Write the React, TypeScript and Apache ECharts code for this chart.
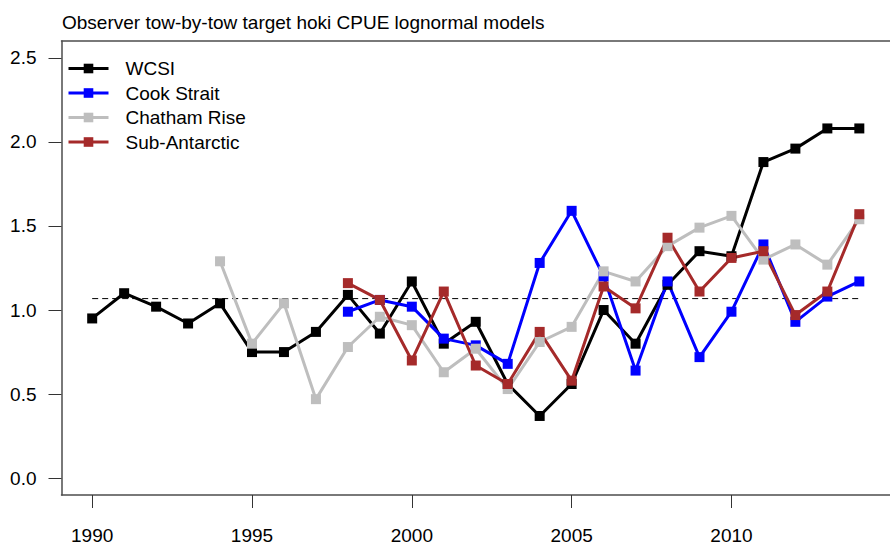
import React, { useEffect, useRef } from "react";
import * as echarts from "echarts";

const years = [1990, 1991, 1992, 1993, 1994, 1995, 1996, 1997, 1998, 1999, 2000, 2001, 2002, 2003, 2004, 2005, 2006, 2007, 2008, 2009, 2010, 2011, 2012, 2013, 2014];

const wcsi = [0.95, 1.1, 1.02, 0.92, 1.04, 0.75, 0.75, 0.87, 1.09, 0.86, 1.17, 0.8, 0.93, 0.56, 0.37, 0.56, 1.0, 0.8, 1.15, 1.35, 1.32, 1.88, 1.96, 2.08, 2.08];
const cookStrait = [null, null, null, null, null, null, null, null, 0.99, 1.06, 1.02, 0.83, 0.79, 0.68, 1.28, 1.59, 1.2, 0.64, 1.17, 0.72, 0.99, 1.39, 0.93, 1.08, 1.17];
const chathamRise = [null, null, null, null, 1.29, 0.8, 1.04, 0.47, 0.78, 0.96, 0.91, 0.63, 0.77, 0.53, 0.81, 0.9, 1.23, 1.17, 1.38, 1.49, 1.56, 1.3, 1.39, 1.27, 1.54];
const subAntarctic = [null, null, null, null, null, null, null, null, 1.16, 1.06, 0.7, 1.11, 0.67, 0.56, 0.87, 0.58, 1.14, 1.01, 1.43, 1.11, 1.31, 1.35, 0.97, 1.11, 1.57];

const refLevel = 1.068;
const xTicks = [1990, 1995, 2000, 2005, 2010];
const yTicks = [0, 0.5, 1, 1.5, 2, 2.5];

const seriesDefs = [
  { name: "WCSI", values: wcsi, color: "#000000" },
  { name: "Cook Strait", values: cookStrait, color: "#0000FF" },
  { name: "Chatham Rise", values: chathamRise, color: "#BEBEBE" },
  { name: "Sub-Antarctic", values: subAntarctic, color: "#A52A2A" },
];

const FONT = "'Liberation Sans', Arial, sans-serif";
const BOX = "#4d4d4d";

export default function App() {
  const ref = useRef<HTMLDivElement>(null);
  useEffect(() => {
    if (!ref.current) return;
    const chart = echarts.init(ref.current, null, { renderer: "svg" });
    const lineSeries = seriesDefs.map((s) => ({
      name: s.name,
      type: "line",
      data: years
        .map((y, i) => [y, s.values[i]])
        .filter((p) => p[1] !== null),
      symbol: "rect",
      symbolSize: 10,
      showSymbol: true,
      itemStyle: { color: s.color },
      lineStyle: { color: s.color, width: 3 },
      z: 3,
    }));
    const option = {
      animation: false,
      backgroundColor: "#ffffff",
      title: {
        text: "Observer tow-by-tow target hoki CPUE lognormal models",
        left: 62,
        top: 13,
        padding: 0,
        textStyle: { fontFamily: FONT, fontSize: 19, fontWeight: "normal", color: "#000" },
      },
      legend: {
        orient: "vertical",
        left: 67,
        top: 59,
        padding: 0,
        itemWidth: 40,
        itemHeight: 12,
        itemGap: 5.5,
        data: seriesDefs.map((s) => s.name),
        lineStyle: { width: 3 },
        textStyle: { fontFamily: FONT, fontSize: 19, color: "#000", padding: [0, 0, 0, 12] },
      },
      grid: {
        left: 61.5,
        top: 41,
        width: 838,
        height: 454,
        show: false,
      },
      xAxis: [
        {
          type: "value",
          min: 1989.04,
          max: 2014.96,
          splitLine: { show: false },
          axisLine: { show: true, onZero: false, lineStyle: { color: BOX, width: 1.5 } },
          axisTick: { show: true, length: 13, customValues: xTicks, lineStyle: { color: "#333" } },
          axisLabel: {
            customValues: xTicks,
            margin: 31,
            fontFamily: FONT,
            fontSize: 19,
            color: "#000",
            formatter: (v: number) => String(v),
          },
        },
        {
          type: "value",
          position: "top",
          min: 1989.04,
          max: 2014.96,
          splitLine: { show: false },
          axisLine: { show: true, onZero: false, lineStyle: { color: BOX, width: 1.5 } },
          axisTick: { show: false },
          axisLabel: { show: false },
        },
      ],
      yAxis: {
        type: "value",
        min: -0.1,
        max: 2.6,
        splitLine: { show: false },
        axisLine: { show: true, onZero: false, lineStyle: { color: BOX, width: 1.5 } },
        axisTick: { show: true, length: 13, customValues: yTicks, lineStyle: { color: "#333" } },
        axisLabel: {
          customValues: yTicks,
          margin: 25,
          fontFamily: FONT,
          fontSize: 19,
          color: "#000",
          formatter: (v: number) => v.toFixed(1),
        },
      },
      series: [
        {
          name: "ref",
          type: "line",
          data: [
            [1990, refLevel],
            [2014, refLevel],
          ],
          symbol: "none",
          lineStyle: { color: "#000", width: 1, type: [6, 4] },
          silent: true,
          z: 2,
        },
        ...lineSeries,
      ],
    };
    chart.setOption(option as any);
    return () => chart.dispose();
  }, []);
  return (
    <div
      ref={ref}
      style={{ position: "fixed", left: 0, top: 0, width: 890, height: 545, background: "#fff" }}
    />
  );
}
